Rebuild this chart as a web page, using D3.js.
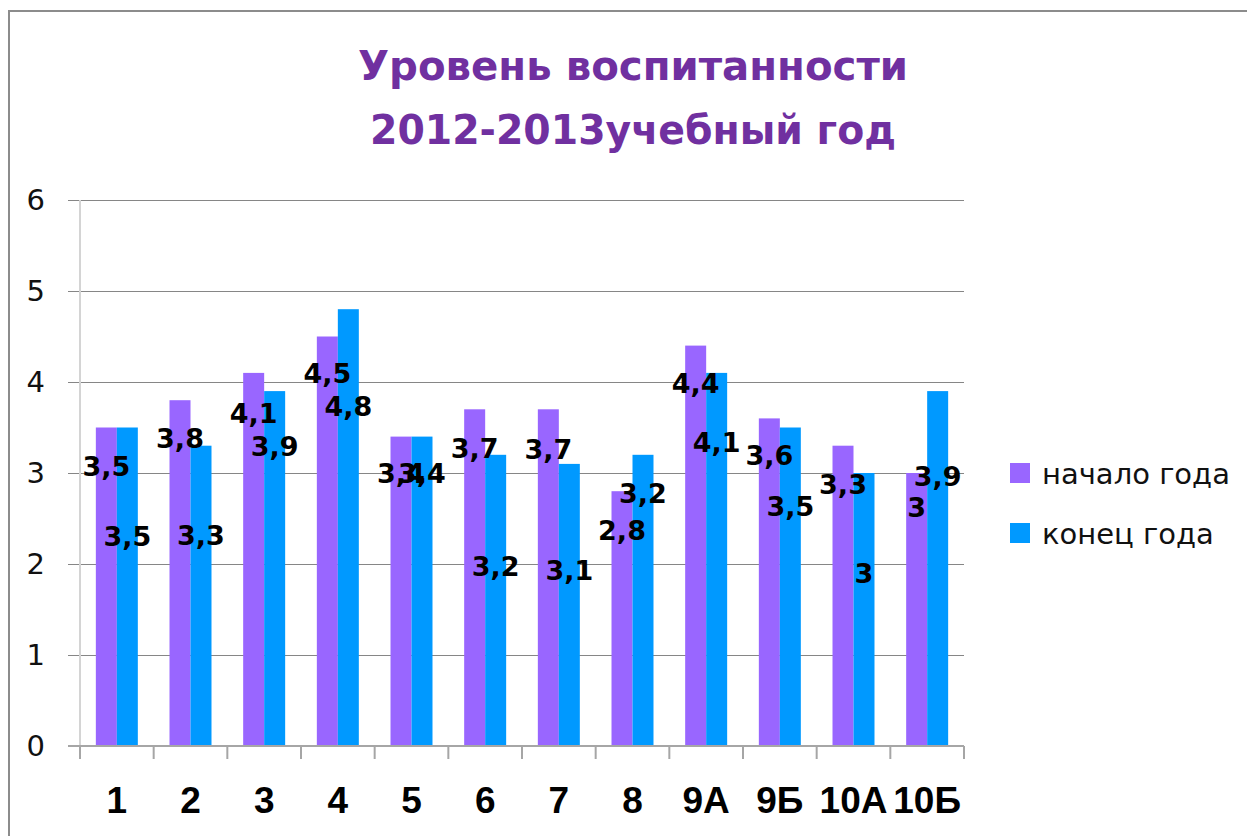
<!DOCTYPE html>
<html>
<head>
<meta charset="utf-8">
<script src="https://cdn.jsdelivr.net/npm/d3@7"></script>
<style>
    html, body { margin: 0; padding: 0; background: #fff; }
    svg { display: block; }
</style>
</head>
<body>
<svg id="chart" width="1247" height="836"></svg>
<script>
// === DATA ===

const CLASSES = ['1', '2', '3', '4', '5', '6', '7', '8', '9А', '9Б', '10А', '10Б'];
const SERIES = ['начало года', 'конец года'];
const START_VALUES = [3.5, 3.8, 4.1, 4.5, 3.4, 3.7, 3.7, 2.8, 4.4, 3.6, 3.3, 3.0];
const END_VALUES   = [3.5, 3.3, 3.9, 4.8, 3.4, 3.2, 3.1, 3.2, 4.1, 3.5, 3.0, 3.9];
const Y_TICKS = [0, 1, 2, 3, 4, 5, 6];

// where the (hand-moved) data labels sit, in axis units
const START_LABEL_AT = [3.07, 3.38, 3.66, 4.10, 3.00, 3.27, 3.26, 2.37, 3.99, 3.20, 2.88, 2.62];
const END_LABEL_AT   = [2.30, 2.32, 3.29, 3.73, 3.00, 1.97, 1.93, 2.78, 3.34, 2.63, 1.90, 2.96];

const COLORS = ['#9966ff', '#0099ff'];
const TITLE_LINES = ['Уровень воспитанности', '2012-2013учебный год'];
const TITLE_WIDTHS = [550, 526];

// === LAYOUT ===

const plot = { left: 80, right: 964, top: 200, bottom: 746 };

const svg = d3.select('#chart');

// chart frame (runs off the right and bottom edges in the picture)
svg.append('rect')
    .attr('x', 9).attr('y', 11)
    .attr('width', 1260).attr('height', 840)
    .attr('fill', '#fff')
    .attr('stroke', '#8c8c8c')
    .attr('stroke-width', 2);

// === SCALES ===

const y = d3.scaleLinear().domain([0, 6]).range([plot.bottom, plot.top]);

const x = d3.scaleBand()
    .domain(CLASSES)
    .range([plot.left, plot.right])
    .paddingInner(0.43)
    .paddingOuter(0.215);

const xSub = d3.scaleBand()
    .domain(d3.range(SERIES.length))
    .range([0, x.bandwidth()]);

// === GRID + Y AXIS ===

const yAxis = svg.append('g')
    .attr('transform', `translate(68,0)`)
    .call(d3.axisLeft(y)
        .tickValues(Y_TICKS)
        .tickFormat(d3.format('d'))
        .tickSize(-(plot.right - 68))
        .tickPadding(23));

yAxis.select('.domain').remove();
yAxis.selectAll('.tick line').attr('stroke', '#868686').attr('stroke-width', 1);
yAxis.selectAll('.tick text')
    .attr('font-family', 'DejaVu Sans')
    .attr('font-size', 29)
    .attr('fill', '#111');

// vertical axis line
svg.append('line')
    .attr('x1', plot.left).attr('x2', plot.left)
    .attr('y1', plot.top).attr('y2', plot.bottom)
    .attr('stroke', '#d4d4d4')
    .attr('stroke-width', 2);

// === BARS ===

const rows = CLASSES.map((c, i) => ({
    cls: c,
    values: [START_VALUES[i], END_VALUES[i]],
    labelAt: [START_LABEL_AT[i], END_LABEL_AT[i]]
}));

const groups = svg.append('g')
    .selectAll('g')
    .data(rows)
    .join('g')
    .attr('transform', d => `translate(${x(d.cls)},0)`);

groups.selectAll('rect')
    .data(d => d.values.map((v, s) => ({ v, s })))
    .join('rect')
    .attr('x', d => xSub(d.s))
    .attr('y', d => y(d.v))
    .attr('width', xSub.bandwidth())
    .attr('height', d => y(0) - y(d.v))
    .attr('fill', d => COLORS[d.s]);

// === X AXIS ===

svg.append('line')
    .attr('x1', 68).attr('x2', plot.right)
    .attr('y1', plot.bottom).attr('y2', plot.bottom)
    .attr('stroke', '#a6a6a6')
    .attr('stroke-width', 2);

const boundaries = CLASSES.map(c => x(c) - x.step() * x.paddingInner() / 2)
    .concat([plot.right]);

svg.append('g')
    .selectAll('line')
    .data(boundaries)
    .join('line')
    .attr('x1', d => d).attr('x2', d => d)
    .attr('y1', plot.bottom).attr('y2', plot.bottom + 13)
    .attr('stroke', '#a6a6a6')
    .attr('stroke-width', 2);

const xAxis = svg.append('g')
    .attr('transform', `translate(0,${plot.bottom})`)
    .call(d3.axisBottom(x).tickSize(0).tickPadding(0));

xAxis.select('.domain').remove();
xAxis.selectAll('.tick text')
    .attr('dy', null)
    .attr('y', 67)
    .attr('font-family', 'Liberation Sans')
    .attr('font-weight', 'bold')
    .attr('font-size', 37)
    .attr('fill', '#000');

// === DATA LABELS ===

groups.selectAll('text')
    .data(d => d.values.map((v, s) => ({ v, s, at: d.labelAt[s] })))
    .join('text')
    .attr('x', d => xSub(d.s) + xSub.bandwidth() / 2)
    .attr('y', d => y(d.at))
    .attr('dy', '0.36em')
    .attr('text-anchor', 'middle')
    .attr('font-family', 'DejaVu Sans')
    .attr('font-weight', 'bold')
    .attr('font-size', 27)
    .attr('fill', '#000')
    .text(d => String(d.v).replace('.', ','));

// === TITLE ===

svg.append('g')
    .selectAll('text')
    .data(TITLE_LINES)
    .join('text')
    .attr('x', 633)
    .attr('y', (d, i) => 80 + i * 64)
    .attr('text-anchor', 'middle')
    .attr('font-family', 'DejaVu Sans')
    .attr('font-weight', 'bold')
    .attr('font-size', 40)
    .attr('textLength', (d, i) => TITLE_WIDTHS[i])
    .attr('lengthAdjust', 'spacingAndGlyphs')
    .attr('fill', '#7030a0')
    .text(d => d);

// === LEGEND ===

const legend = svg.append('g')
    .selectAll('g')
    .data(SERIES)
    .join('g')
    .attr('transform', (d, i) => `translate(1010,${463 + i * 60})`);

legend.append('rect')
    .attr('width', 20)
    .attr('height', 20)
    .attr('fill', (d, i) => COLORS[i]);

legend.append('text')
    .attr('x', 32)
    .attr('y', 21)
    .attr('font-family', 'DejaVu Sans')
    .attr('font-size', 29)
    .attr('fill', '#111')
    .text(d => d);
</script>
</body>
</html>
